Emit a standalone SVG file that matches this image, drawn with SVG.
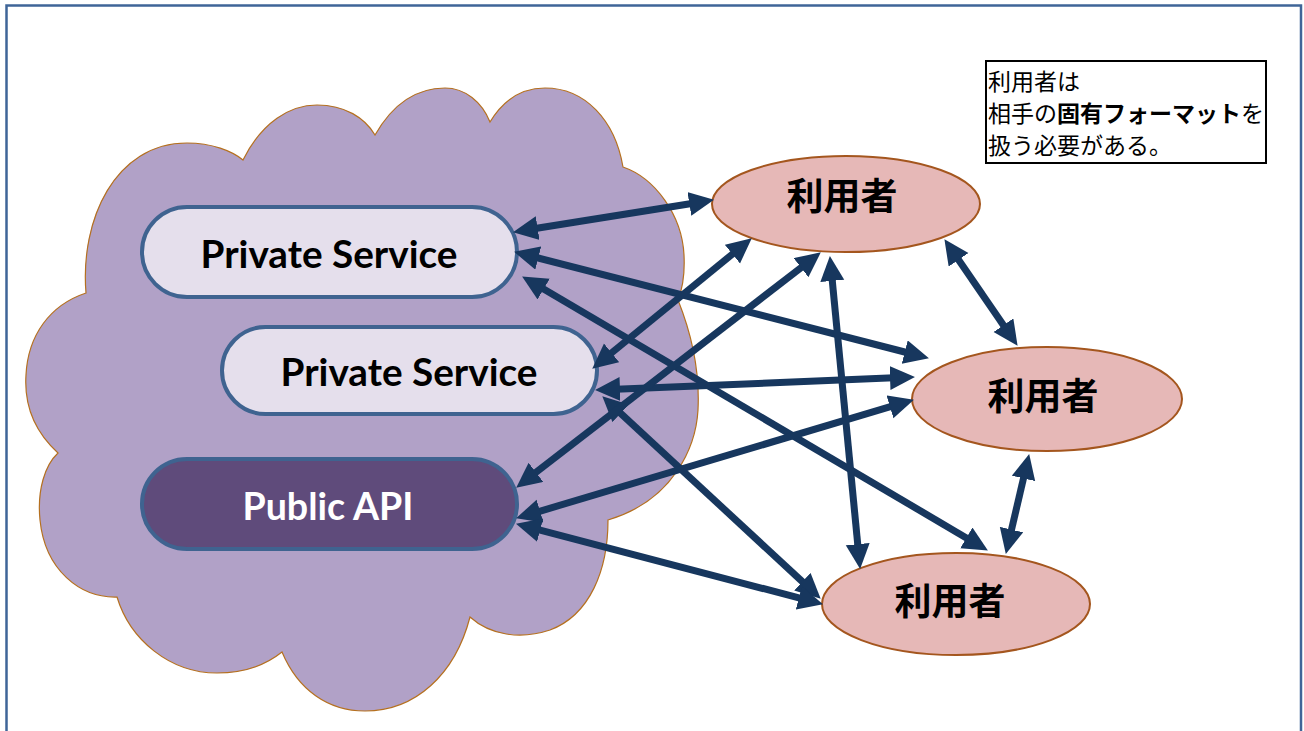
<svg xmlns="http://www.w3.org/2000/svg" width="1304" height="731" viewBox="0 0 1304 731">
  <style>
    .frame { fill: none; stroke: #3F6598; stroke-width: 2.5; }
    .cloud { fill: #B1A1C7; stroke: #B5701F; stroke-width: 1.2; }
    .pill { stroke: #3F6390; stroke-width: 4; }
    .private { fill: #E5DFEC; }
    .public { fill: #5F4B7B; }
    .pill-text { font-family: Lato, "Open Sans", "Liberation Sans", sans-serif; font-weight: bold; font-size: 38px; text-anchor: middle; }
    .user { fill: #E6B8B7; stroke: #A4561E; stroke-width: 2; }
    .user-text { font-family: "Noto Sans CJK JP", "Noto Sans", sans-serif; font-weight: bold; font-size: 37px; text-anchor: middle; fill: #000; }
    .note-box { fill: #FFFFFF; stroke: #000; stroke-width: 2; }
    .note-text { font-family: "Noto Sans CJK JP", sans-serif; font-size: 23px; fill: #000; }
    .link { stroke: #17375E; stroke-width: 7; fill: none; marker-start: url(#head); marker-end: url(#head); }
  </style>
  <defs>
    <!-- filled arrowhead, tip sits 21px past the line end -->
    <marker id="head" markerUnits="userSpaceOnUse" markerWidth="27" markerHeight="25" refX="4" refY="12" orient="auto-start-reverse">
      <path d="M0,0 L25,12 L0,24 Z" fill="#17375E"/>
    </marker>
  </defs>

  <rect width="1304" height="731" fill="#FFFFFF"/>
  <path class="frame" d="M6.5,740 V5.5 H1301 V740"/>

  <g id="cloud">
    <path class="cloud" d="M243,160 C262,122 290,105 317,105 C345,105 365,118 375,135 C395,100 420,88 445,88 C465,88 482,102 490,122 C505,97 525,88 545,88 C585,88 615,120 623,167 C655,178 682,215 684,255 C685,275 682,290 678,300 C690,330 700,370 698,410 C696,445 675,500 608,520 C608,570 590,615 550,630 C520,640 490,635 470,617 C455,675 415,711 365,711 C328,711 298,690 282,652 C262,668 240,673 217,673 C170,673 130,640 117,597 C80,598 45,570 40,520 C37,490 45,465 58,453 C35,432 24,405 26,375 C28,335 50,305 86,293 C80,220 115,143 187,143 C212,143 232,151 243,160 Z"/>
  </g>

  <g id="private-service-1">
    <rect class="pill private" x="142" y="207" width="375" height="90" rx="45" ry="45"/>
    <text class="pill-text" x="329" y="268" textLength="257" lengthAdjust="spacingAndGlyphs" fill="#000">Private Service</text>
  </g>
  <g id="private-service-2">
    <rect class="pill private" x="222" y="327" width="375" height="87" rx="43.5" ry="43.5"/>
    <text class="pill-text" x="409" y="386" textLength="257" lengthAdjust="spacingAndGlyphs" fill="#000">Private Service</text>
  </g>
  <g id="public-api">
    <rect class="pill public" x="142" y="459" width="375" height="90" rx="45" ry="45"/>
    <text class="pill-text" x="328" y="520" textLength="171" lengthAdjust="spacingAndGlyphs" fill="#FFFFFF">Public API</text>
  </g>

  <g id="user-top">
    <ellipse class="user" cx="846" cy="204" rx="134" ry="48"/>
    <text class="user-text" x="842" y="210">利用者</text>
  </g>
  <g id="user-middle">
    <ellipse class="user" cx="1047" cy="399" rx="135" ry="52"/>
    <text class="user-text" x="1043" y="410">利用者</text>
  </g>
  <g id="user-bottom">
    <ellipse class="user" cx="956" cy="604" rx="134" ry="51"/>
    <text class="user-text" x="950" y="615">利用者</text>
  </g>

  <g id="note">
    <rect class="note-box" x="986" y="61" width="280" height="102"/>
    <text class="note-text" x="988" y="90">利用者は</text>
    <text class="note-text" x="988" y="122">相手の<tspan font-weight="bold">固有フォーマット</tspan>を</text>
    <text class="note-text" x="988" y="154">扱う必要がある。</text>
  </g>

  <g id="connectors">
    <line class="link" x1="533.7" y1="228.8" x2="693.3" y2="203.2"/>
    <line class="link" x1="534.4" y1="257.0" x2="908.6" y2="353.0"/>
    <line class="link" x1="540.2" y1="287.1" x2="969.8" y2="539.9"/>
    <line class="link" x1="608.5" y1="355.4" x2="735.5" y2="251.6"/>
    <line class="link" x1="616.0" y1="389.2" x2="894.0" y2="377.8"/>
    <line class="link" x1="617.7" y1="410.6" x2="805.3" y2="584.4"/>
    <line class="link" x1="532.8" y1="474.8" x2="804.2" y2="265.2"/>
    <line class="link" x1="536.2" y1="512.3" x2="893.8" y2="405.7"/>
    <line class="link" x1="536.3" y1="529.1" x2="802.7" y2="598.9"/>
    <line class="link" x1="831.9" y1="276.9" x2="858.1" y2="548.1"/>
    <line class="link" x1="956.3" y1="256.5" x2="1005.7" y2="328.5"/>
    <line class="link" x1="1024.4" y1="474.5" x2="1010.6" y2="533.5"/>
  </g>
</svg>
